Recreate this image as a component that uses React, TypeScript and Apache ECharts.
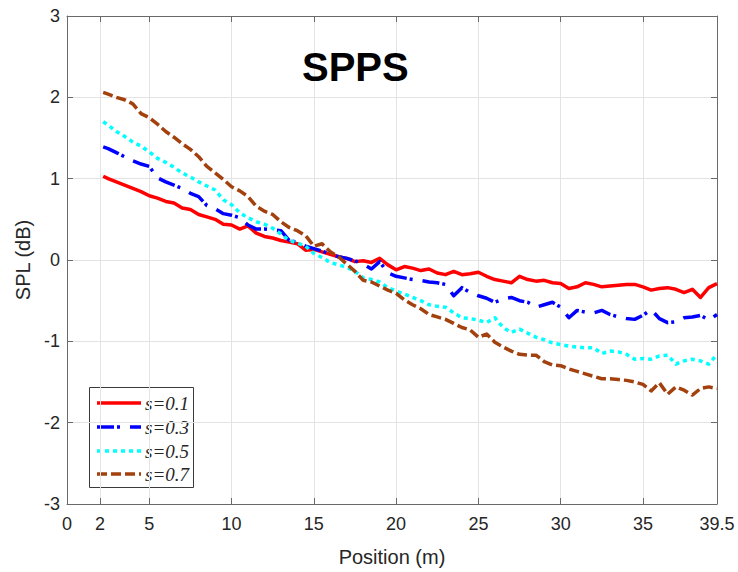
import React, { useEffect, useRef } from "react";
import * as echarts from "echarts";

const positions = [
  2.2, 2.5, 3, 3.5, 4, 4.5, 5, 5.5, 6, 6.5, 7, 7.5, 8, 8.5, 9, 9.5, 10, 10.5, 11, 11.5,
  12, 12.5, 13, 13.5, 14, 14.5, 15, 15.5, 16, 16.5, 17, 17.5, 18, 18.5, 19, 19.5, 20, 20.5,
  21, 21.5, 22, 22.5, 23, 23.5, 24, 24.5, 25, 25.5, 26, 26.5, 27, 27.5, 28, 28.5, 29, 29.5,
  30, 30.5, 31, 31.5, 32, 32.5, 33, 33.5, 34, 34.5, 35, 35.5, 36, 36.5, 37, 37.5, 38, 38.5,
  39, 39.5,
];

const s01 = [
  1.03, 1.0, 0.96, 0.92, 0.88, 0.84, 0.79, 0.76, 0.72, 0.7, 0.64, 0.62, 0.56, 0.53, 0.5, 0.44,
  0.43, 0.38, 0.42, 0.33, 0.29, 0.27, 0.24, 0.22, 0.2, 0.12, 0.13, 0.1, 0.07, 0.04, 0.02, -0.02,
  -0.01, -0.03, 0.02, -0.06, -0.12, -0.08, -0.1, -0.13, -0.11, -0.16, -0.18, -0.14, -0.18, -0.17,
  -0.15, -0.2, -0.24, -0.26, -0.28, -0.2, -0.24, -0.26, -0.25, -0.28, -0.29, -0.35, -0.33, -0.28,
  -0.3, -0.33, -0.32, -0.31, -0.3, -0.3, -0.33, -0.37, -0.35, -0.34, -0.36, -0.4, -0.36, -0.46,
  -0.34, -0.29,
];

const s03 = [
  1.39, 1.37, 1.32, 1.27, 1.22, 1.18, 1.15, 1.01, 0.96, 0.92, 0.88, 0.82, 0.78, 0.67, 0.63, 0.57,
  0.55, 0.52, 0.43, 0.38, 0.38, 0.37, 0.36, 0.24, 0.22, 0.17, 0.14, 0.11, 0.07, 0.04, 0.02, -0.01,
  -0.05, -0.11, -0.02, -0.16, -0.2, -0.22, -0.24, -0.25, -0.27, -0.28, -0.3, -0.44, -0.34, -0.4,
  -0.44, -0.47, -0.52, -0.48, -0.46, -0.5, -0.52, -0.58, -0.55, -0.52, -0.58, -0.71, -0.62, -0.64,
  -0.65, -0.62, -0.67, -0.7, -0.72, -0.73, -0.68, -0.61, -0.72, -0.77, -0.76, -0.71, -0.7, -0.68,
  -0.74, -0.67,
];

const s05 = [
  1.7, 1.66, 1.58, 1.52, 1.45, 1.4, 1.33, 1.25, 1.2, 1.14, 1.07, 1.02, 0.96, 0.91, 0.86, 0.74,
  0.68, 0.58, 0.52, 0.47, 0.44, 0.39, 0.32, 0.24, 0.21, 0.17, 0.08, 0.03, -0.03, -0.06, -0.09,
  -0.14, -0.22, -0.24, -0.27, -0.34, -0.38, -0.42, -0.46, -0.5, -0.55, -0.57, -0.58, -0.65, -0.71,
  -0.72, -0.74, -0.77, -0.71, -0.83, -0.89, -0.85, -0.9, -0.95, -0.98, -1.02, -1.04, -1.06, -1.07,
  -1.08, -1.08, -1.15, -1.12, -1.13, -1.16, -1.22, -1.21, -1.22, -1.18, -1.17, -1.28, -1.24,
  -1.22, -1.24, -1.28, -1.16,
];

const s07 = [
  2.06, 2.04, 2.0, 1.97, 1.92, 1.8, 1.75, 1.67, 1.58, 1.51, 1.43, 1.36, 1.27, 1.15, 1.07, 0.99,
  0.9, 0.85, 0.78, 0.66, 0.6, 0.56, 0.47, 0.4, 0.36, 0.3, 0.17, 0.2, 0.1, 0.04, -0.05, -0.14,
  -0.25, -0.27, -0.32, -0.37, -0.41, -0.49, -0.55, -0.6, -0.67, -0.7, -0.73, -0.78, -0.83, -0.86,
  -0.95, -0.91, -1.01, -1.07, -1.12, -1.16, -1.17, -1.17, -1.25, -1.29, -1.3, -1.34, -1.37, -1.4,
  -1.43, -1.46, -1.46, -1.47, -1.48, -1.5, -1.53, -1.61, -1.51, -1.65, -1.56, -1.6, -1.66, -1.58,
  -1.56, -1.58,
];

const xTicks = [0, 2, 5, 10, 15, 20, 25, 30, 35, 39.5];
const seriesNames = ["s=0.1", "s=0.3", "s=0.5", "s=0.7"];
const seriesValues = [s01, s03, s05, s07];
const colors = ["#ff0000", "#0000ff", "#00ffff", "#a3410e"];
const dashes: (number[] | "solid")[] = ["solid", [17, 3, 3, 10], [4, 4], [10, 4]];

const AXIS_COLOR = "#6a6a6a";
const TEXT_COLOR = "#262626";
const SANS = "'Liberation Sans', Arial, Helvetica, sans-serif";

export default function App() {
  const ref = useRef<HTMLDivElement>(null);

  useEffect(() => {
    if (!ref.current) return;
    const chart = echarts.init(ref.current, undefined, { renderer: "svg" });

    const series = seriesValues.map((vals, i) => ({
      name: seriesNames[i],
      type: "line",
      xAxisIndex: 0,
      yAxisIndex: 0,
      showSymbol: false,
      symbol: "none",
      data: positions.map((p, j) => [p, vals[j]]),
      lineStyle: {
        color: colors[i],
        width: 3.5,
        type: dashes[i],
        cap: "butt",
        join: "round",
      },
      itemStyle: { color: colors[i] },
      z: 3 + i,
    }));

    const legendX = 89;
    const legendY = 387;
    const rowY = [403, 427, 451, 474];
    const legendChildren: any[] = [
      {
        type: "rect",
        shape: { x: legendX + 0.5, y: legendY + 0.5, width: 104, height: 100 },
        style: { fill: "#ffffff", stroke: "#3a3a3a", lineWidth: 1 },
      },
    ];
    seriesNames.forEach((n, i) => {
      const d = dashes[i];
      legendChildren.push({
        type: "line",
        shape: { x1: 97, y1: rowY[i], x2: 141, y2: rowY[i] },
        style: {
          stroke: colors[i],
          lineWidth: 3.5,
          lineDash: d === "solid" ? null : d,
          lineCap: "butt",
        },
      });
      legendChildren.push({
        type: "text",
        x: 145,
        y: rowY[i],
        style: {
          text: n,
          fill: TEXT_COLOR,
          font: "italic 19px 'Liberation Serif', 'Times New Roman', serif",
          textAlign: "left",
          textVerticalAlign: "middle",
        },
      });
    });

    const tickStyle = { color: AXIS_COLOR, width: 1 };

    const option: any = {
      animation: false,
      backgroundColor: "#ffffff",
      title: {
        text: "SPPS",
        left: 302,
        top: 47,
        padding: 0,
        textStyle: {
          fontSize: 40,
          fontWeight: "bold",
          color: "#000000",
          fontFamily: SANS,
        },
      },
      grid: { left: 67, right: 21, top: 16, bottom: 64, containLabel: false },
      xAxis: [
        {
          type: "value",
          min: 0,
          max: 39.5,
          position: "bottom",
          name: "Position (m)",
          nameLocation: "middle",
          nameGap: 43,
          nameTextStyle: { fontSize: 20, color: TEXT_COLOR, fontFamily: SANS },
          axisLine: { show: true, onZero: false, lineStyle: tickStyle },
          axisTick: {
            show: true,
            inside: true,
            length: 6,
            customValues: xTicks,
            lineStyle: tickStyle,
          },
          axisLabel: {
            show: true,
            customValues: xTicks,
            fontSize: 18,
            color: TEXT_COLOR,
            fontFamily: SANS,
            margin: 11,
            showMinLabel: true,
            showMaxLabel: true,
            hideOverlap: false,
          },
          splitLine: { show: true, lineStyle: { color: "#e3e3e3", width: 1 } },
        },
        {
          type: "value",
          min: 0,
          max: 39.5,
          position: "top",
          axisLine: { show: true, onZero: false, lineStyle: tickStyle },
          axisTick: {
            show: true,
            inside: true,
            length: 6,
            customValues: xTicks,
            lineStyle: tickStyle,
          },
          axisLabel: { show: false },
          splitLine: { show: false },
        },
      ],
      yAxis: [
        {
          type: "value",
          min: -3,
          max: 3,
          interval: 1,
          position: "left",
          name: "SPL (dB)",
          nameLocation: "middle",
          nameGap: 30,
          nameTextStyle: { fontSize: 20, color: TEXT_COLOR, fontFamily: SANS },
          axisLine: { show: true, onZero: false, lineStyle: tickStyle },
          axisTick: { show: true, inside: true, length: 6, lineStyle: tickStyle },
          axisLabel: {
            fontSize: 18,
            color: TEXT_COLOR,
            fontFamily: SANS,
            margin: 7,
          },
          splitLine: { show: true, lineStyle: { color: "#e3e3e3", width: 1 } },
        },
        {
          type: "value",
          min: -3,
          max: 3,
          interval: 1,
          position: "right",
          axisLine: { show: true, onZero: false, lineStyle: tickStyle },
          axisTick: { show: true, inside: true, length: 6, lineStyle: tickStyle },
          axisLabel: { show: false },
          splitLine: { show: false },
        },
      ],
      series,
      graphic: [{ type: "group", z: 100, children: legendChildren }],
    };

    chart.setOption(option);
    return () => chart.dispose();
  }, []);

  return <div ref={ref} style={{ width: 738, height: 572, position: "absolute", left: 0, top: 0 }} />;
}
